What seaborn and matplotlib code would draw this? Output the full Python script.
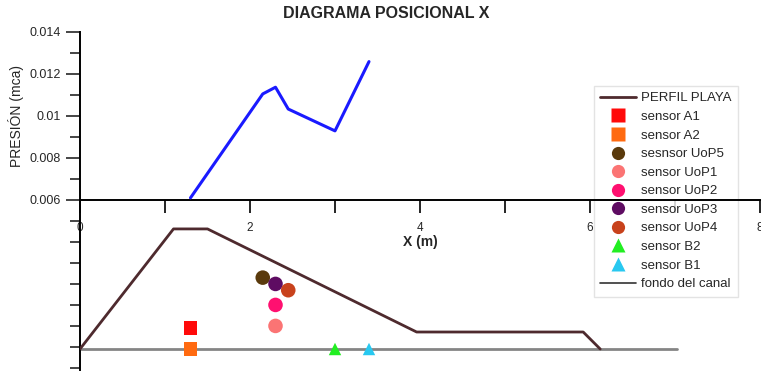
import numpy as np
import pandas as pd
import matplotlib.pyplot as plt
import seaborn as sns
from matplotlib.ticker import MultipleLocator, FixedLocator
from matplotlib.lines import Line2D

# pressure line (upper part)
pres_x = [1.30, 2.15, 2.30, 2.45, 3.00, 3.40]
pres_y = [0.0061, 0.01105, 0.01137, 0.01033, 0.00929, 0.01259]

# beach profile and channel bottom (lower part, same y units)
perfil_x = [0.0, 1.10, 1.50, 3.96, 5.92, 6.12]
perfil_y = [-0.0011, 0.00462, 0.00462, -0.00029, -0.00029, -0.0011]
fondo_x = [0.0, 7.02]
fondo_y = [-0.0011, -0.0011]

# sensors
sensor_names = ['sensor A1', 'sensor A2', 'sesnsor UoP5', 'sensor UoP1', 'sensor UoP2',
                'sensor UoP3', 'sensor UoP4', 'sensor B2', 'sensor B1']
sensor_x = [1.30, 1.30, 2.15, 2.30, 2.30, 2.30, 2.45, 3.00, 3.40]
sensor_y = [-0.0001, -0.0011, 0.0023, 0.0000, 0.0010, 0.0020, 0.0017, -0.0011, -0.0011]
sensor_colors = ['#ff0a0a', '#ff6a10', '#5a3a0c', '#fb7474', '#ff1070',
                 '#5e0c62', '#c8421c', '#22ee22', '#28c8f0']
sensor_markers = ['s', 's', 'o', 'o', 'o', 'o', 'o', '^', '^']
sensor_sizes = [100, 100, 110, 110, 110, 110, 110, 80, 80]

sns.set_style("ticks")
plt.rcParams['font.family'] = ['Liberation Sans', 'DejaVu Sans']

fig = plt.figure(figsize=(7.61, 3.75), dpi=100)
ax = fig.add_axes([80 / 761, 1 - 370 / 375, 680 / 761, (370 - 32) / 375])

sns.lineplot(x=fondo_x, y=fondo_y, ax=ax, color='#858585', lw=2, sort=False, zorder=2)
sns.lineplot(x=perfil_x, y=perfil_y, ax=ax, color='#4e2a2e', lw=2, sort=False, zorder=3)
sns.lineplot(x=pres_x, y=pres_y, ax=ax, color='#1a1aff', lw=2.2, sort=False, zorder=3)

df = pd.DataFrame({'x': sensor_x, 'y': sensor_y, 'name': sensor_names})
for i, row in df.iterrows():
    sns.scatterplot(x=[row['x']], y=[row['y']], ax=ax, color=sensor_colors[i],
                    marker=sensor_markers[i], s=sensor_sizes[i], edgecolor='none', zorder=4)

ax.set_xlim(0, 8)
ax.set_ylim(-0.0021, 0.014)

sns.despine(ax=ax)
ax.spines['bottom'].set_position(('data', 0.006))
ax.spines['left'].set_linewidth(1.4)
ax.spines['bottom'].set_linewidth(1.4)
ax.spines['left'].set_color('black')
ax.spines['bottom'].set_color('black')

ax.xaxis.set_major_locator(MultipleLocator(2))
ax.xaxis.set_minor_locator(MultipleLocator(1))
ax.tick_params(axis='x', which='both', direction='out', length=9, width=1.2, pad=7,
               labelsize=8.5, color='black')

ax.yaxis.set_major_locator(FixedLocator([0.006, 0.008, 0.010, 0.012, 0.014]))
ax.yaxis.set_minor_locator(FixedLocator([-0.002, -0.001, 0.0, 0.001, 0.002, 0.003, 0.004, 0.005,
                                         0.007, 0.009, 0.011, 0.013]))
ax.set_yticklabels(['0.006', '0.008', '0.01', '0.012', '0.014'])
ax.tick_params(axis='y', which='major', direction='out', length=10, width=1.2, labelsize=9)
ax.tick_params(axis='y', which='minor', direction='out', length=7, width=1.2)

ax.set_ylabel('PRESIÓN (mca)', fontsize=10)
ax.yaxis.set_label_coords(-0.083, (0.010 + 0.0021) / 0.0161)
ax.set_xlabel('')
ax.text(4, 0.0040, 'X (m)', ha='center', va='center', fontsize=10, fontweight='bold')

fig.text(386 / 761, 1 - 14 / 375, 'DIAGRAMA POSICIONAL X', ha='center', va='center',
         fontsize=11.5, fontweight='bold')

handles = [Line2D([], [], color='#4e2a2e', lw=2)]
for i in range(len(sensor_names)):
    handles.append(Line2D([], [], ls='none', marker=sensor_markers[i], color=sensor_colors[i],
                          markersize=9.5, markeredgecolor='none'))
handles.append(Line2D([], [], color='#333333', lw=1.2))
labels = ['PERFIL PLAYA'] + sensor_names + ['fondo del canal']
leg = ax.legend(handles, labels, loc='upper right', bbox_to_anchor=(745 / 761, 1 - 79 / 375),
                bbox_transform=fig.transFigure, fontsize=9.5, frameon=True, fancybox=False,
                edgecolor='#dddddd', handlelength=2.7, handletextpad=0.4, labelspacing=0.48,
                borderpad=0.5)
leg.set_zorder(1)

fig.savefig('out.png', dpi=100)
